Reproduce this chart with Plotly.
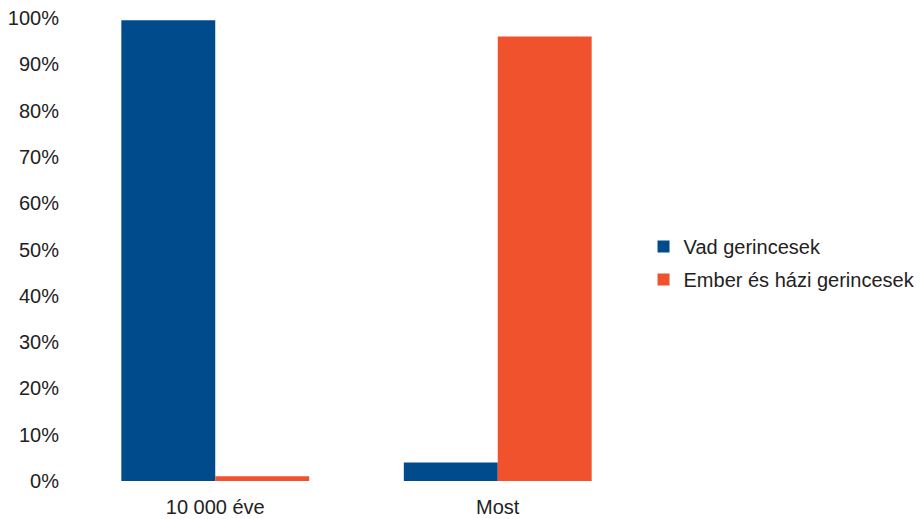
import plotly.graph_objects as go

categories = ["10 000 éve", "Most"]
vad = [99.5, 4]
ember = [1, 96]
y_ticks = list(range(0, 101, 10))
y_tick_labels = [f"{v}%" for v in y_ticks]

fig = go.Figure()
fig.add_trace(go.Bar(name="Vad gerincesek", x=categories, y=vad, legendgroup="a",
                     marker=dict(color="#004b8b", line=dict(width=0))))
fig.add_trace(go.Bar(name="Ember és házi gerincesek", x=categories, y=ember, legendgroup="b",
                     marker=dict(color="#f0522e", line=dict(width=0))))

fig.update_layout(
    width=924, height=519,
    margin=dict(l=73.5, r=284.5, t=18, b=38, pad=0, autoexpand=False),
    paper_bgcolor="white", plot_bgcolor="white",
    barmode="group", bargap=0.335, bargroupgap=0,
    font=dict(family="Liberation Sans, Arial, sans-serif", size=20, color="#222"),
    showlegend=True,
    legend=dict(x=1.008, xanchor="left", xref="paper", y=0.471, yanchor="middle",
                font=dict(size=20), tracegroupgap=4, traceorder="grouped",
                bgcolor="rgba(0,0,0,0)"),
)
fig.update_xaxes(showgrid=False, showline=False, zeroline=False, ticks="",
                 ticklabelstandoff=12, automargin=False)
fig.update_yaxes(range=[0, 100], tickvals=y_ticks, ticktext=y_tick_labels,
                 showgrid=False, showline=False, zeroline=False, ticks="",
                 ticklabelstandoff=14, automargin=False)

fig.write_html("out.html")
